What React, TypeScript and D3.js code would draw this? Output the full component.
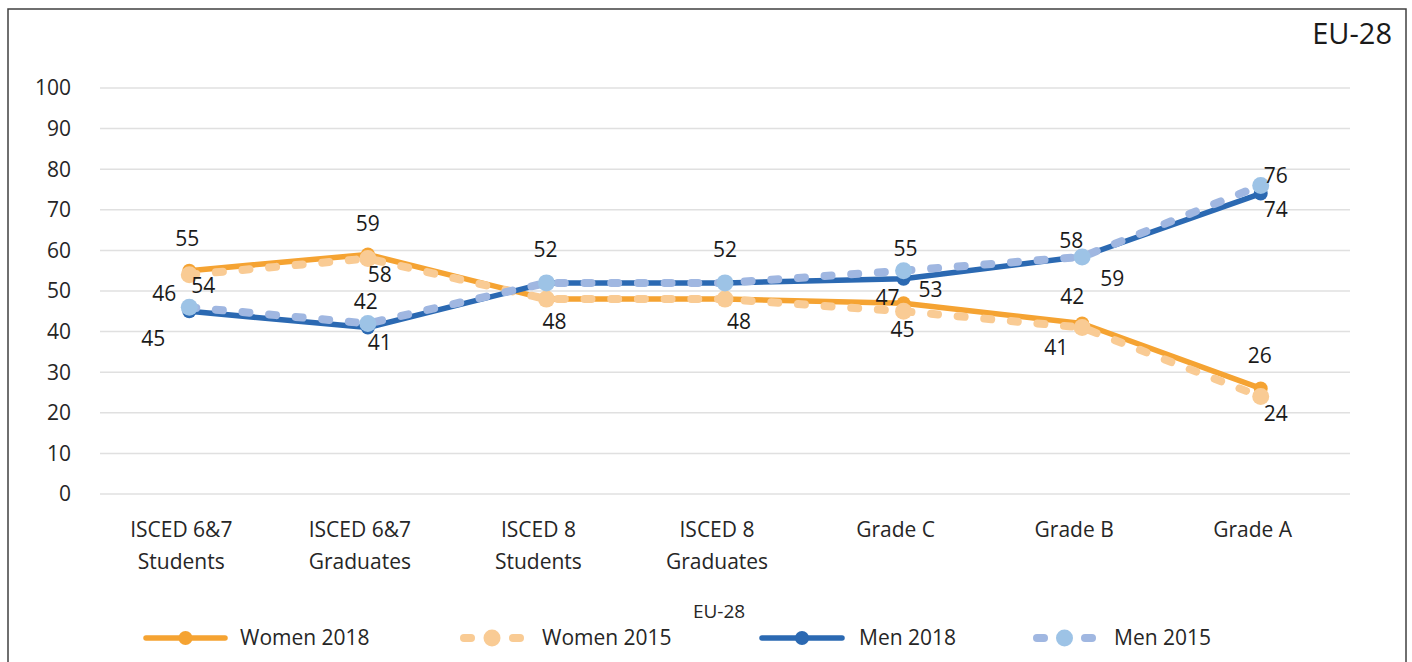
import React from 'react';
import * as d3 from 'd3';

// categories and series
const categories = ['ISCED 6&7 Students', 'ISCED 6&7 Graduates', 'ISCED 8 Students', 'ISCED 8 Graduates', 'Grade C', 'Grade B', 'Grade A'];
const categoryLines = [['ISCED 6&7', 'Students'], ['ISCED 6&7', 'Graduates'], ['ISCED 8', 'Students'], ['ISCED 8', 'Graduates'], ['Grade C'], ['Grade B'], ['Grade A']];
const women2018 = [55, 59, 48, 48, 47, 42, 26];
const women2015 = [54, 58, 48, 48, 45, 41, 24];
const men2018 = [45, 41, 52, 52, 53, 58.5, 74];
const men2015 = [46, 42, 52, 52, 55, 58.4, 76];
const yTicks = [0, 10, 20, 30, 40, 50, 60, 70, 80, 90, 100];

// hand-placed label nudges (dx, dy from the point), null = label hidden
const nudgeW18: ([number, number] | null)[] = [[-2, -32], [0, -31], null, null, [-16, -6], [-10, -27], [-1, -33]];
const nudgeW15: ([number, number] | null)[] = [[14, 11], [12, 16], [8, 23], [14, 23], [-1, 18], [-26, 20], [15, 17]];
const nudgeM18: ([number, number] | null)[] = [[-36, 27], [12, 15], null, null, [27, 11], [30, 22], [15, 16]];
const nudgeM15: ([number, number] | null)[] = [[-25, -14], [-2, -22], [-1, -33], [0, -33], [2, -22], [-11, -16], [15, -10]];

const FONT = '"Open Sans", "Noto Sans", sans-serif';

const series = [
  { name: 'Women 2018', values: women2018, nudge: nudgeW18, line: '#F5A332', marker: '#F5A332', dashed: false },
  { name: 'Women 2015', values: women2015, nudge: nudgeW15, line: '#F9CB94', marker: '#F9CB94', dashed: true },
  { name: 'Men 2018', values: men2018, nudge: nudgeM18, line: '#2B69B2', marker: '#2B69B2', dashed: false },
  { name: 'Men 2015', values: men2015, nudge: nudgeM15, line: '#A0B7E1', marker: '#9DC3E6', dashed: true },
];

const App = () => {
  const width = 1412;
  const height = 662;

  const x = d3.scaleBand().domain(categories).range([100, 1350]);
  const cx = (i: number) => (x(categories[i]) as number) + x.bandwidth() / 2;
  const y = d3.scaleLinear().domain([0, 100]).range([494, 88]);

  const lineGen = d3.line<number>()
    .x((_, i) => cx(i))
    .y(d => y(d));

  const legendItems = [
    { s: series[0], x0: 146, x1: 225, tx: 240 },
    { s: series[1], x0: 462, x1: 522, tx: 542 },
    { s: series[2], x0: 762, x1: 842, tx: 859 },
    { s: series[3], x0: 1035, x1: 1094, tx: 1114 },
  ];

  return (
    <svg width={width} height={height} style={{ display: 'block', position: 'absolute', left: 0, top: 0 }} fontFamily={FONT}>
      <rect x={0} y={0} width={width} height={height} fill="#fff" />
      <rect x={8} y={9} width={1398} height={700} fill="none" stroke="#404040" strokeWidth={1.5} />

      <text x={1392} y={44} textAnchor="end" fontSize={29} fill="#1a1a1a">EU-28</text>

      {/* grid + y axis */}
      {yTicks.map(t => (
        <g key={t}>
          <line x1={100} x2={1350} y1={y(t)} y2={y(t)} stroke="#e0e0e0" strokeWidth={1.5} />
          <text x={71} y={y(t)} dy="0.35em" textAnchor="end" fontSize={21} fill="#262626">{t}</text>
        </g>
      ))}

      {/* category labels */}
      {categoryLines.map((lines, i) => (
        <text key={i} x={cx(i) - 8} y={537} textAnchor="middle" fontSize={21} fill="#262626">
          {lines.map((l, j) => (
            <tspan key={j} x={cx(i) - 8} dy={j === 0 ? 0 : 32}>{l}</tspan>
          ))}
        </text>
      ))}

      {/* series */}
      {series.map(s => (
        <g key={s.name}>
          <path
            d={lineGen(s.values) || ''}
            fill="none"
            stroke={s.line}
            strokeWidth={s.dashed ? 8 : 5.5}
            strokeLinecap="round"
            strokeLinejoin="round"
            strokeDasharray={s.dashed ? '7 19.7' : undefined}
          />
          {s.values.map((v, i) => (
            <circle key={i} cx={cx(i)} cy={y(v)} r={s.dashed ? 8.5 : 7} fill={s.marker} />
          ))}
        </g>
      ))}

      {/* data labels */}
      {series.map(s => s.values.map((v, i) => {
        const n = s.nudge[i];
        if (!n) return null;
        return (
          <text key={s.name + i} x={cx(i) + n[0]} y={y(v) + n[1]} dy="0.35em" textAnchor="middle" fontSize={21} fill="#1a1a1a">
            {Math.round(v)}
          </text>
        );
      }))}

      {/* legend */}
      <text x={719} y={611} dy="0.35em" textAnchor="middle" fontSize={19} fill="#262626">EU-28</text>
      {legendItems.map(({ s, x0, x1, tx }) => {
        const mid = (x0 + x1) / 2;
        return (
          <g key={s.name}>
            {s.dashed ? (
              <>
                <line x1={x0 + 2} x2={x0 + 9} y1={638} y2={638} stroke={s.line} strokeWidth={8} strokeLinecap="round" />
                <line x1={x1 - 9} x2={x1 - 2} y1={638} y2={638} stroke={s.line} strokeWidth={8} strokeLinecap="round" />
                <circle cx={mid} cy={638} r={8.5} fill={s.marker} />
              </>
            ) : (
              <>
                <line x1={x0} x2={x1} y1={638} y2={638} stroke={s.line} strokeWidth={5.5} strokeLinecap="round" />
                <circle cx={mid} cy={638} r={7} fill={s.marker} />
              </>
            )}
            <text x={tx} y={638} dy="0.35em" fontSize={21} fill="#262626">{s.name}</text>
          </g>
        );
      })}
    </svg>
  );
};

export default App;
